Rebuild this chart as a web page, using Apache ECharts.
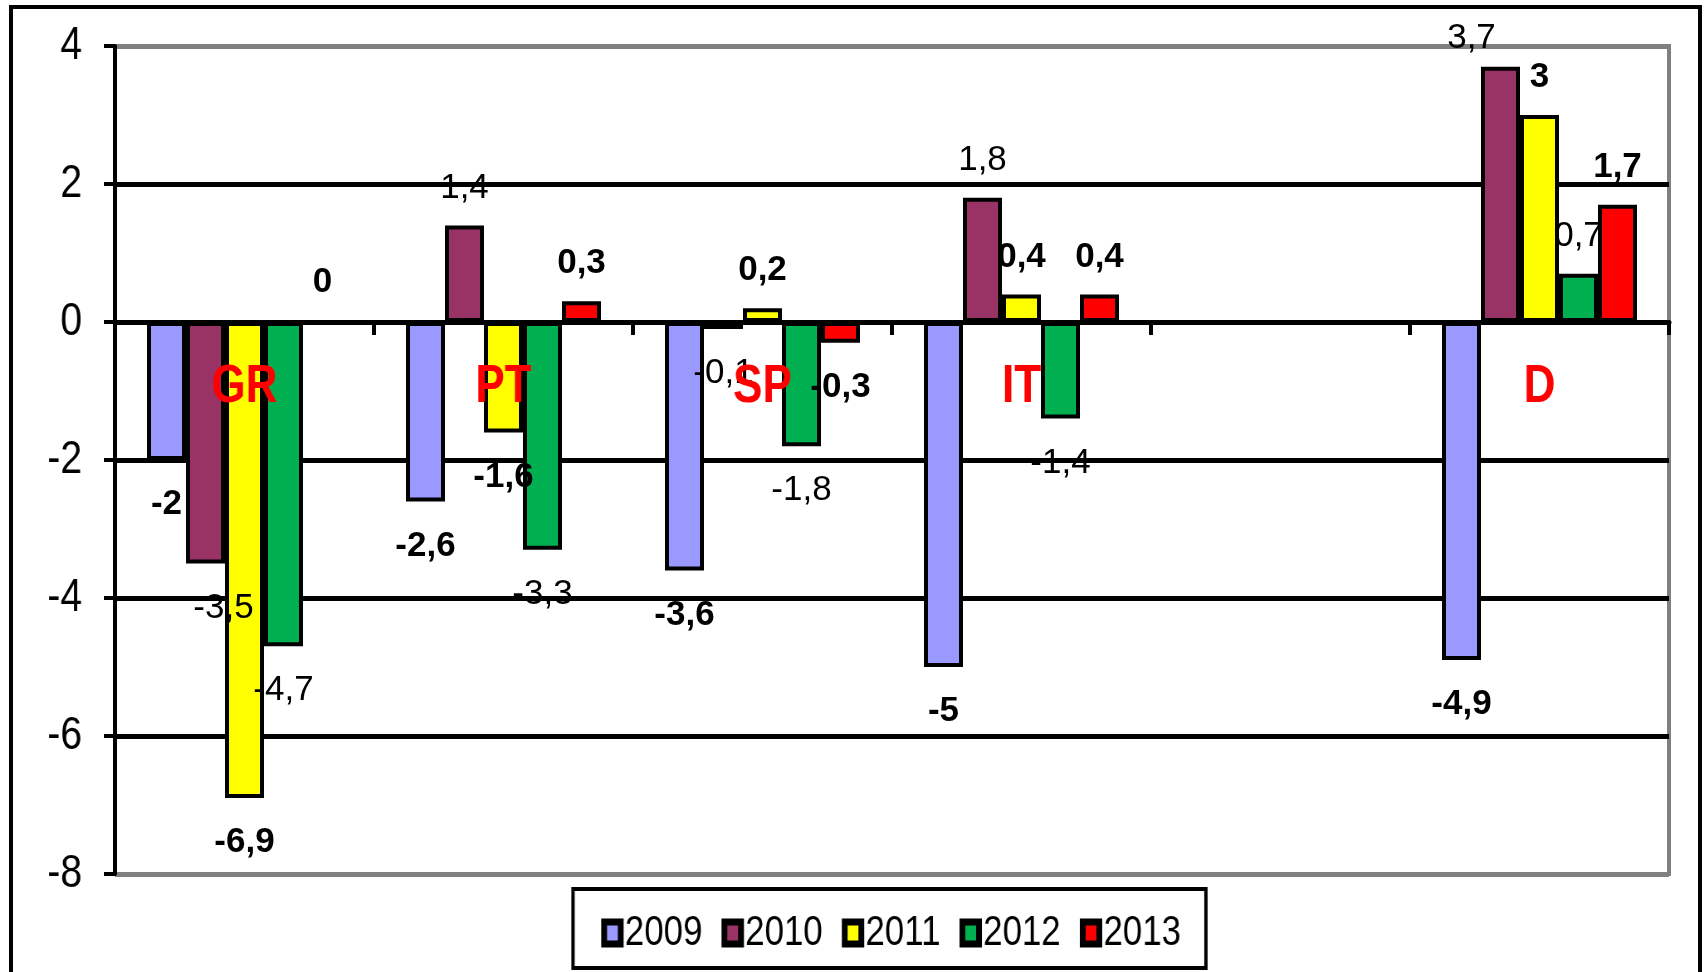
<!DOCTYPE html>
<html>
<head>
<meta charset="utf-8">
<script src="https://cdn.jsdelivr.net/npm/echarts@6/dist/echarts.min.js"></script>
<style>
  html, body { margin: 0; padding: 0; background: #fff; overflow: hidden; }
  #stage { position: relative; width: 1705px; height: 972px; overflow: hidden; }
  #chart, .captions { position: absolute; left: 0; top: 0; height: 972px; }
  #chart { width: 1705px; }
  /* tick labels, country names and legend use a condensed face */
  .captions { transform-origin: 0 0; pointer-events: none; }
</style>
</head>
<body>
<div id="stage">
  <div id="chart"></div>
  <div id="yCaptions" class="captions"></div>
  <div id="xCaptions" class="captions"></div>
</div>
<script>
// Budget balance (% of GDP) by country and year
const categories = ['GR', 'PT', 'SP', 'IT', '', 'D'];
const years = ['2009', '2010', '2011', '2012', '2013'];
const v2009 = [-2, -2.6, -3.6, -5, null, -4.9];
const v2010 = [-3.5, 1.4, -0.1, 1.8, null, 3.7];
const v2011 = [-6.9, -1.6, 0.2, 0.4, null, 3];
const v2012 = [-4.7, -3.3, -1.8, -1.4, null, 0.7];
const v2013 = [0, 0.3, -0.3, 0.4, null, 1.7];
const yMin = -8, yMax = 4, yStep = 2;

const seriesValues = [v2009, v2010, v2011, v2012, v2013];
const colors = ['#9999FF', '#993366', '#FFFF00', '#00B050', '#FF0000'];
const boldLabels = [true, false, true, false, true];
// a couple of value labels sit slightly off their bars
const labelShift = { '1-0': [18, 0], '1-5': [-29, 9] };

const FONT = '"Liberation Sans", Arial, sans-serif';
const NARROW = 0.83;            // horizontal squeeze of the caption layers
const W = 1705, H = 972;
const plot = { left: 115, top: 46, width: 1554, height: 828 };

// ---- main chart: bars, grid, value labels ----
const series = seriesValues.map((vals, s) => ({
  name: years[s],
  type: 'bar',
  barWidth: 39,
  barGap: '0%',
  itemStyle: { color: colors[s], borderColor: '#000', borderWidth: 4 },
  label: {
    show: true,
    fontFamily: FONT,
    fontSize: 35,
    fontWeight: boldLabels[s] ? 'bold' : 'normal',
    color: '#000',
    formatter: p => String(p.value).replace('.', ',')
  },
  data: vals.map((v, i) => {
    if (v === null) return null;
    const shift = labelShift[s + '-' + i] || [0, 0];
    return {
      value: v,
      label: { position: v < 0 ? 'bottom' : 'top', distance: v < 0 ? 27 : 20, offset: shift }
    };
  })
}));

const chart = echarts.init(document.getElementById('chart'), null, { renderer: 'canvas' });
chart.setOption({
  animation: false,
  backgroundColor: '#fff',
  grid: {
    left: plot.left, top: plot.top, width: plot.width, height: plot.height,
    outerBoundsMode: 'none',
    show: true, borderColor: '#808080', borderWidth: 4, backgroundColor: 'transparent'
  },
  xAxis: {
    type: 'category',
    data: categories,
    z: 10,
    axisLine: { onZero: true, lineStyle: { color: '#000', width: 5 } },
    axisTick: { show: true, length: 13, lineStyle: { color: '#000', width: 4 } },
    axisLabel: { show: false },
    splitLine: { show: false }
  },
  yAxis: {
    type: 'value',
    min: yMin, max: yMax, interval: yStep,
    axisLine: { show: true, lineStyle: { color: '#000', width: 4 } },
    axisTick: { show: true, length: 11, lineStyle: { color: '#000', width: 4 } },
    axisLabel: { show: false },
    splitLine: {
      show: true,
      lineStyle: { color: ['#808080', '#000', '#000', '#000', '#000', '#000', '#808080'], width: 5 }
    }
  },
  graphic: [{
    type: 'rect',
    shape: { x: 11, y: 7, width: 1689, height: 1000 },
    style: { fill: 'none', stroke: '#000', lineWidth: 4 },
    silent: true
  }],
  series: series
});

// ---- condensed caption layers ----
function squeeze(id) {
  const el = document.getElementById(id);
  el.style.width = (W / NARROW) + 'px';
  el.style.transform = 'scaleX(' + NARROW + ')';
  return echarts.init(el, null, { renderer: 'canvas' });
}
const capGrid = {
  left: plot.left / NARROW, top: plot.top,
  width: plot.width / NARROW, height: plot.height,
  outerBoundsMode: 'none', show: false
};
const hiddenAxis = {
  axisLine: { show: false }, axisTick: { show: false },
  axisLabel: { show: false }, splitLine: { show: false }
};

// The tick-label axis runs one step past the top so that the "4" label is an
// ordinary inner tick; its grid grows upward by the same amount.
const stepPx = plot.height / ((yMax - yMin) / yStep);
const labelGrid = Object.assign({}, capGrid, { top: plot.top - stepPx, height: plot.height + stepPx });

// value-axis tick labels and the legend
squeeze('yCaptions').setOption({
  animation: false,
  grid: labelGrid,
  legend: {
    left: 573 / NARROW, top: 889,
    icon: 'rect',
    itemWidth: 20, itemHeight: 22, itemGap: 23,
    padding: [23, 30, 14, 34],
    borderColor: '#000', borderWidth: 4,
    itemStyle: { borderColor: '#000', borderWidth: 7 },
    textStyle: { fontFamily: FONT, fontSize: 42, color: '#000' },
    data: years.map(name => ({ name: name, itemStyle: { borderColor: '#000', borderWidth: 7 } }))
  },
  xAxis: Object.assign({ type: 'category', data: categories }, hiddenAxis),
  yAxis: {
    type: 'value',
    min: yMin, max: yMax + yStep, interval: yStep,
    axisLine: { show: false },
    axisTick: { show: false },
    splitLine: { show: false },
    axisLabel: {
      margin: 33 / NARROW, fontFamily: FONT, fontSize: 47, color: '#000',
      formatter: v => (v > yMax ? '' : String(v))
    }
  },
  series: years.map((y, s) => ({
    name: y,
    type: 'bar',
    itemStyle: { color: colors[s], borderColor: '#000', borderWidth: 7 },
    data: []
  }))
});

// country names along the zero line
squeeze('xCaptions').setOption({
  animation: false,
  grid: capGrid,
  xAxis: {
    type: 'category',
    data: categories,
    axisLine: { show: false },
    axisTick: { show: false },
    axisLabel: {
      interval: 0, margin: -513,
      fontFamily: FONT, fontSize: 53, fontWeight: 'bold', color: '#FF0000'
    },
    splitLine: { show: false }
  },
  yAxis: Object.assign({ type: 'value', min: yMin, max: yMax, interval: yStep }, hiddenAxis)
});
</script>
</body>
</html>
